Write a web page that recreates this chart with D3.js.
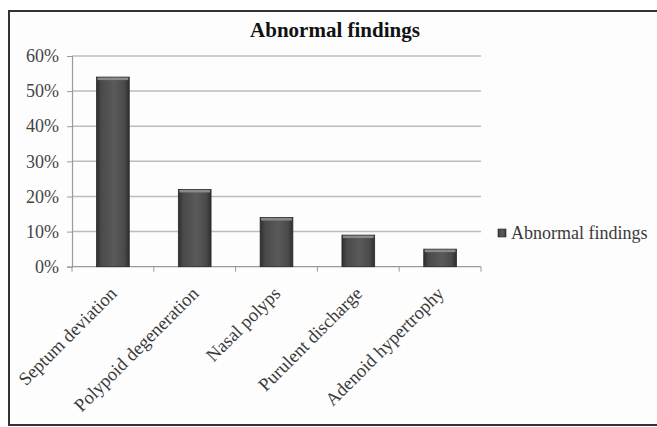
<!DOCTYPE html>
<html>
<head>
<meta charset="utf-8">
<script src="https://cdn.jsdelivr.net/npm/d3@7"></script>
<style>
  html, body { margin: 0; padding: 0; background: #ffffff; }
  svg { display: block; }
</style>
</head>
<body>
<svg id="chart" width="657" height="427"></svg>
<script>
// Share of patients with each abnormal finding
const categories = ["Septum deviation", "Polypoid degeneration", "Nasal polyps", "Purulent discharge", "Adenoid hypertrophy"];
const values = [0.54, 0.22, 0.14, 0.09, 0.05];
const yTicks = [0, 0.1, 0.2, 0.3, 0.4, 0.5, 0.6];
const seriesName = "Abnormal findings";
const chartTitle = "Abnormal findings";

const svg = d3.select("#chart");
const font = "'Liberation Serif', 'Times New Roman', serif";

// Outer frame
svg.append("rect")
  .attr("x", 9).attr("y", 11).attr("width", 660).attr("height", 414)
  .attr("fill", "#fdfdfd").attr("stroke", "#333").attr("stroke-width", 2);

const plot = { left: 72, right: 481, top: 56, bottom: 266.7 };

const x = d3.scaleBand().domain(categories).range([plot.left, plot.right]).paddingInner(0).paddingOuter(0);
const y = d3.scaleLinear().domain([0, 0.6]).range([plot.bottom, plot.top]);

// Gradient for the bar bodies
const defs = svg.append("defs");
const grad = defs.append("linearGradient").attr("id", "barGrad").attr("x1", "0%").attr("x2", "100%");
grad.append("stop").attr("offset", "0%").attr("stop-color", "#2e2e2e");
grad.append("stop").attr("offset", "15%").attr("stop-color", "#4a4a4a");
grad.append("stop").attr("offset", "55%").attr("stop-color", "#5a5a5a");
grad.append("stop").attr("offset", "85%").attr("stop-color", "#4a4a4a");
grad.append("stop").attr("offset", "100%").attr("stop-color", "#2e2e2e");

// Horizontal gridlines
svg.append("g")
  .selectAll("line")
  .data(yTicks.filter(t => t > 0))
  .join("line")
  .attr("x1", plot.left).attr("x2", plot.right)
  .attr("y1", d => y(d)).attr("y2", d => y(d))
  .attr("stroke", "#bdbdbd").attr("stroke-width", 1.5);

// Y axis
const yAxis = d3.axisLeft(y).tickValues(yTicks).tickFormat(d3.format(".0%")).tickSize(5).tickPadding(8);
const yg = svg.append("g").attr("transform", `translate(${plot.left},0)`).call(yAxis);
yg.select(".domain").attr("stroke", "#9a9a9a").attr("stroke-width", 1.2);
yg.selectAll(".tick line").attr("stroke", "#9a9a9a");
yg.selectAll(".tick text")
  .attr("font-family", font).attr("font-size", 18).attr("fill", "#444");

// X axis with ticks at category boundaries
const xg = svg.append("g").attr("transform", `translate(0,${plot.bottom})`);
xg.append("line")
  .attr("x1", plot.left).attr("x2", plot.right)
  .attr("stroke", "#9a9a9a").attr("stroke-width", 1.2);
const boundaries = categories.map(c => x(c)).concat([x(categories[categories.length - 1]) + x.bandwidth()]);
xg.selectAll("line.tk")
  .data(boundaries)
  .join("line").attr("class", "tk")
  .attr("x1", d => d).attr("x2", d => d)
  .attr("y1", 0).attr("y2", 5)
  .attr("stroke", "#9a9a9a");

// Rotated category labels
xg.selectAll("text")
  .data(categories)
  .join("text")
  .attr("transform", d => `translate(${x(d) + x.bandwidth() / 2 + 5},${28}) rotate(-45)`)
  .attr("text-anchor", "end")
  .attr("font-family", font).attr("font-size", 18.5).attr("fill", "#3a3a3a")
  .text(d => d);

// Bars
const barW = x.bandwidth() * 0.4;
const bars = svg.append("g").selectAll("g")
  .data(categories.map((c, i) => ({ c, v: values[i] })))
  .join("g");

bars.append("rect")
  .attr("x", d => x(d.c) + (x.bandwidth() - barW) / 2)
  .attr("y", d => y(d.v))
  .attr("width", barW)
  .attr("height", d => y(0) - y(d.v))
  .attr("fill", "url(#barGrad)")
  .attr("stroke", "#2a2a2a").attr("stroke-width", 0.8);

// Lighter cap on top of each bar
bars.append("rect")
  .attr("x", d => x(d.c) + (x.bandwidth() - barW) / 2 + 1)
  .attr("y", d => y(d.v) + 0.5)
  .attr("width", barW - 2)
  .attr("height", 2.5)
  .attr("fill", "#8a8a8a");

// Title
svg.append("text")
  .attr("x", 335).attr("y", 37)
  .attr("text-anchor", "middle")
  .attr("font-family", font).attr("font-size", 21).attr("font-weight", "bold")
  .attr("fill", "#111")
  .text(chartTitle);

// Legend
const lg = svg.append("g").attr("transform", "translate(498,229)");
lg.append("rect").attr("width", 8).attr("height", 8)
  .attr("fill", "url(#barGrad)").attr("stroke", "#2a2a2a").attr("stroke-width", 0.6);
lg.append("text")
  .attr("x", 13).attr("y", 9.5)
  .attr("font-family", font).attr("font-size", 18).attr("fill", "#3a3a3a")
  .text(seriesName);
</script>
</body>
</html>
